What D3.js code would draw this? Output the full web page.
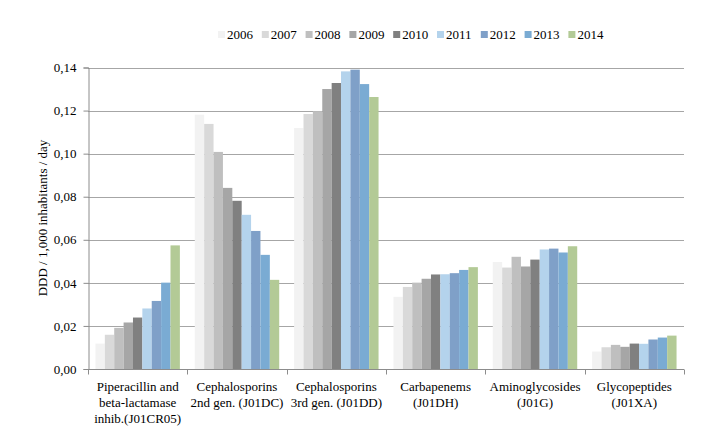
<!DOCTYPE html>
<html><head><meta charset="utf-8">
<script src="https://cdn.jsdelivr.net/npm/d3@7"></script>
<style>body{margin:0;background:#fff;} svg{display:block;} svg text{font-family:"Liberation Serif","Times New Roman",Times,serif !important;}</style>
</head><body><svg id="c" width="713" height="437"></svg>
<script>
const categories = [
  ["Piperacillin and","beta-lactamase","inhib.(J01CR05)"],
  ["Cephalosporins","2nd gen. (J01DC)"],
  ["Cephalosporins","3rd gen. (J01DD)"],
  ["Carbapenems","(J01DH)"],
  ["Aminoglycosides","(J01G)"],
  ["Glycopeptides","(J01XA)"]
];
const years = ["2006","2007","2008","2009","2010","2011","2012","2013","2014"];
const colors = ["#f2f2f2","#d9d9d9","#bfbfbf","#a6a6a6","#808080","#b4d3ec","#7fa0c8","#7aabd3","#b3ca96"];
// values per category, one array per year
const v2006 = [0.0118,0.1181,0.1119,0.0335,0.0497,0.0081];
const v2007 = [0.0159,0.1138,0.1184,0.0381,0.0471,0.0101];
const v2008 = [0.0191,0.1008,0.1197,0.0401,0.0521,0.0112];
const v2009 = [0.0216,0.0841,0.1300,0.0419,0.0476,0.0103];
const v2010 = [0.0239,0.0781,0.1328,0.0439,0.0508,0.0118];
const v2011 = [0.0281,0.0716,0.1382,0.0440,0.0555,0.0117];
const v2012 = [0.0316,0.0641,0.1390,0.0445,0.0559,0.0137];
const v2013 = [0.0401,0.0530,0.1323,0.0460,0.0541,0.0146];
const v2014 = [0.0574,0.0414,0.1263,0.0473,0.0570,0.0155];
const series = [v2006,v2007,v2008,v2009,v2010,v2011,v2012,v2013,v2014];
const yTicks = [0,0.02,0.04,0.06,0.08,0.10,0.12,0.14];

const svg = d3.select("#c");
const L = 88, R = 684, T = 67.5, B = 369;
const x0 = d3.scaleBand().domain(d3.range(categories.length)).range([L,R]).paddingInner(0.15).paddingOuter(0.075);
const x1 = d3.scaleBand().domain(d3.range(years.length)).range([0,x0.bandwidth()]);
const y = d3.scaleLinear().domain([0,0.14]).range([B,T]);
const xb = d3.scaleBand().domain(d3.range(categories.length)).range([L,R]);

// gridlines
svg.append("g").selectAll("line").data(yTicks.slice(1)).join("line")
  .attr("x1",L).attr("x2",R).attr("y1",d=>Math.round(y(d))+0.5).attr("y2",d=>Math.round(y(d))+0.5)
  .attr("stroke","#a6a6a6").attr("stroke-width",1);

// bars
const g = svg.append("g");
categories.forEach((c,ci)=>{
  series.forEach((s,si)=>{
    g.append("rect")
      .attr("x", x0(ci) + x1(si))
      .attr("y", y(s[ci]))
      .attr("width", x1.bandwidth())
      .attr("height", B - y(s[ci]))
      .attr("fill", colors[si]);
  });
});

// y axis
const ya = d3.axisLeft(y).tickValues(yTicks).tickSize(5).tickPadding(7)
  .tickFormat(d=>d3.format(".2f")(d).replace(".",","));
const yg = svg.append("g").attr("transform",`translate(${L+0.5},0)`).call(ya);
yg.attr("font-family",null);
yg.select(".domain").attr("stroke","#8c8c8c");
yg.selectAll(".tick line").attr("stroke","#8c8c8c");
yg.selectAll("text").attr("font-size",13).attr("fill","#000");

// x axis
const xg = svg.append("g").attr("transform",`translate(0,${B+0.5})`);
xg.append("line").attr("x1",L).attr("x2",R).attr("stroke","#8c8c8c");
xg.selectAll("line.t").data(d3.range(categories.length+1)).join("line").attr("class","t")
  .attr("x1",i=>Math.round(L+i*xb.step())+0.5).attr("x2",i=>Math.round(L+i*xb.step())+0.5)
  .attr("y1",0).attr("y2",5).attr("stroke","#8c8c8c");
categories.forEach((c,ci)=>{
  const t = svg.append("text").attr("text-anchor","middle").attr("font-size",13).attr("fill","#000")
    .attr("x", xb(ci)+xb.bandwidth()/2).attr("y", 391);
  c.forEach((ln,li)=>t.append("tspan").attr("x",xb(ci)+xb.bandwidth()/2).attr("dy",li===0?0:16).text(ln));
});

// y label
svg.append("text").attr("transform","translate(47,218) rotate(-90)").attr("text-anchor","middle")
  .attr("font-size",13).attr("fill","#000").text("DDD / 1,000 inhabitants / day");

// legend
const lg = svg.append("g");
years.forEach((yr,i)=>{
  const lx = 218 + i*43.8;
  lg.append("rect").attr("x",lx).attr("y",31).attr("width",7).attr("height",7).attr("fill",colors[i]);
  lg.append("text").attr("x",lx+9).attr("y",39).attr("font-size",13).attr("fill","#000").text(yr);
});
</script></body></html>
